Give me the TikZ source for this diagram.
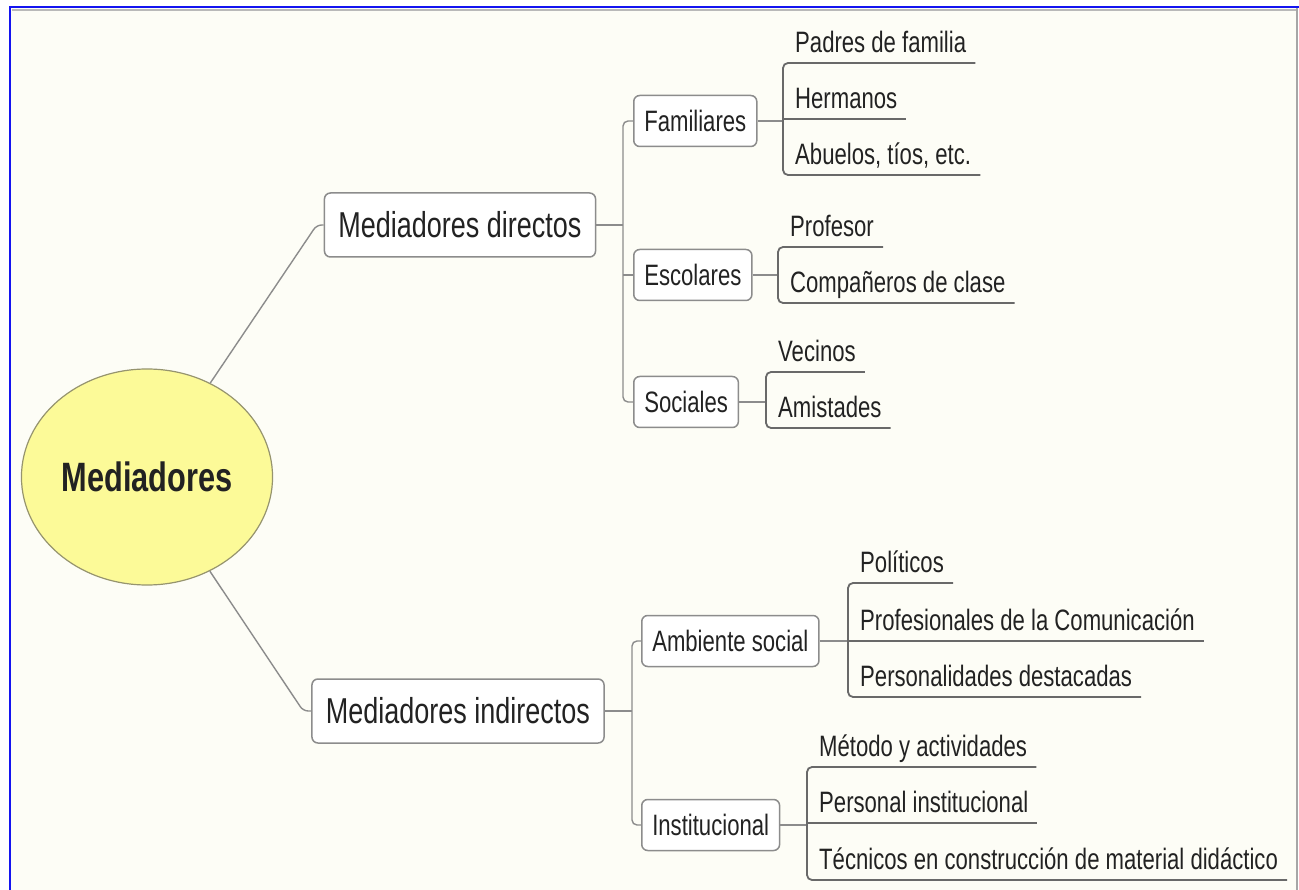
\documentclass[tikz,border=0pt]{standalone}
\usepackage{fontspec}
\setmainfont{Liberation Sans}[FakeStretch=0.75]
\usepackage{tikz}
\usetikzlibrary{shapes.geometric,positioning}

\definecolor{fondo}{RGB}{253,253,246}
\definecolor{marco}{RGB}{20,20,240}
\definecolor{amarillo}{RGB}{252,250,152}
\definecolor{bordeamarillo}{RGB}{150,148,110}
\definecolor{lineagris}{RGB}{140,140,140}
\definecolor{subraya}{RGB}{105,105,105}
\definecolor{tinta}{RGB}{34,34,34}

\begin{document}
\begin{tikzpicture}[x=1pt, y=-1pt,
  raiz/.style = {ellipse, draw=bordeamarillo, line width=1.2pt, fill=amarillo,
    minimum width=250pt, minimum height=216pt, text=tinta,
    font=\fontsize{41}{45}\selectfont\bfseries},
  caja/.style = {shape=rectangle, rounded corners=6pt, draw=lineagris,
    line width=1.5pt, fill=white, text=tinta, minimum height=64pt,
    inner xsep=14pt, font=\fontsize{36}{40}\selectfont},
  subcaja/.style = {caja, anchor=west, minimum height=51pt, inner xsep=10.5pt,
    font=\fontsize{29.5}{33}\selectfont},
  hoja/.style = {anchor=south west, inner xsep=9pt, inner ysep=4pt,
    text height=21pt, text depth=6pt, text=tinta,
    font=\fontsize{29.5}{33}\selectfont},
  enlace/.style = {draw=lineagris, line width=1.4pt, rounded corners=5pt},
  rayita/.style = {draw=subraya, line width=1.8pt, rounded corners=5pt}]

  % marco
  \useasboundingbox (0,0) rectangle (1299,890);
  \fill[white] (0,0) rectangle (1299,890);
  \fill[fondo] (10,7) rectangle (1297,890);
  \draw[gray!55, line width=1.2pt] (12,10) -- (1296,10);
  \draw[gray!70, line width=1.5pt] (1297,8) -- (1297,890);
  \draw[marco, line width=2.6pt] (10,890) -- (10,7) -- (1299,7);

  % nodos
  \node[raiz] (med) at (147,477) {Mediadores};
  \node[caja] (dir) at (460,225) {Mediadores directos};
  \node[caja] (ind) at (458,711) {Mediadores indirectos};

  \node[subcaja] (fam) at (633,121) {Familiares};
  \node[subcaja] (esc) at (633,275) {Escolares};
  \node[subcaja] (soc) at (633,402) {Sociales};
  \node[subcaja] (amb) at (641,641) {Ambiente social};
  \node[subcaja] (ins) at (641,825) {Institucional};

  \node[hoja] (pad) at (786,63) {Padres de familia};
  \node[hoja] (her) at (786,119) {Hermanos};
  \node[hoja] (abu) at (786,175) {Abuelos, tíos, etc.};
  \node[hoja] (pro) at (781,247) {Profesor};
  \node[hoja] (com) at (781,303) {Compañeros de clase};
  \node[hoja] (vec) at (769,372) {Vecinos};
  \node[hoja] (ami) at (769,428) {Amistades};
  \node[hoja] (pol) at (851,583) {Políticos};
  \node[hoja] (pcm) at (851,641) {Profesionales de la Comunicación};
  \node[hoja] (per) at (851,697) {Personalidades destacadas};
  \node[hoja] (met) at (810,767) {Método y actividades};
  \node[hoja] (pin) at (810,823) {Personal institucional};
  \node[hoja] (tec) at (810,880) {Técnicos en construcción de material didáctico};

  % ramas principales
  \draw[enlace] (med) -- ([xshift=-7pt]dir.west) -- (dir.west);
  \draw[enlace] (med) -- ([xshift=-8pt]ind.west) -- (ind.west);

  \draw[enlace] (dir.east) -- ([xshift=-10pt]fam.west |- dir.east);
  \draw[enlace] (fam.west) -- ([xshift=-10pt]fam.west) |- (soc.west);
  \draw[enlace] (esc.west) -- ([xshift=-10pt]esc.west);

  \draw[enlace] (ind.east) -- ([xshift=-9pt]amb.west |- ind.east);
  \draw[enlace] (amb.west) -- ([xshift=-9pt]amb.west) |- (ins.west);

  % hojas
  \draw[enlace] (fam.east) -- ([xshift=-3pt]her.south west |- fam.east);
  \draw[rayita] (pad.south east) -- ([xshift=-3pt]pad.south west)
    -- ([xshift=-3pt]abu.south west) -- (abu.south east);
  \draw[rayita] ([xshift=-3pt]her.south west) -- (her.south east);

  \draw[enlace] (esc.east) -- ([xshift=-3pt]pro.south west |- esc.east);
  \draw[rayita] (pro.south east) -- ([xshift=-3pt]pro.south west)
    -- ([xshift=-3pt]com.south west) -- (com.south east);

  \draw[enlace] (soc.east) -- ([xshift=-3pt]vec.south west |- soc.east);
  \draw[rayita] (vec.south east) -- ([xshift=-3pt]vec.south west)
    -- ([xshift=-3pt]ami.south west) -- (ami.south east);

  \draw[enlace] (amb.east) -- ([xshift=-3pt]pcm.south west |- amb.east);
  \draw[rayita] (pol.south east) -- ([xshift=-3pt]pol.south west)
    -- ([xshift=-3pt]per.south west) -- (per.south east);
  \draw[rayita] ([xshift=-3pt]pcm.south west) -- (pcm.south east);

  \draw[enlace] (ins.east) -- ([xshift=-3pt]pin.south west |- ins.east);
  \draw[rayita] (met.south east) -- ([xshift=-3pt]met.south west)
    -- ([xshift=-3pt]tec.south west) -- (tec.south east);
  \draw[rayita] ([xshift=-3pt]pin.south west) -- (pin.south east);
\end{tikzpicture}
\end{document}
